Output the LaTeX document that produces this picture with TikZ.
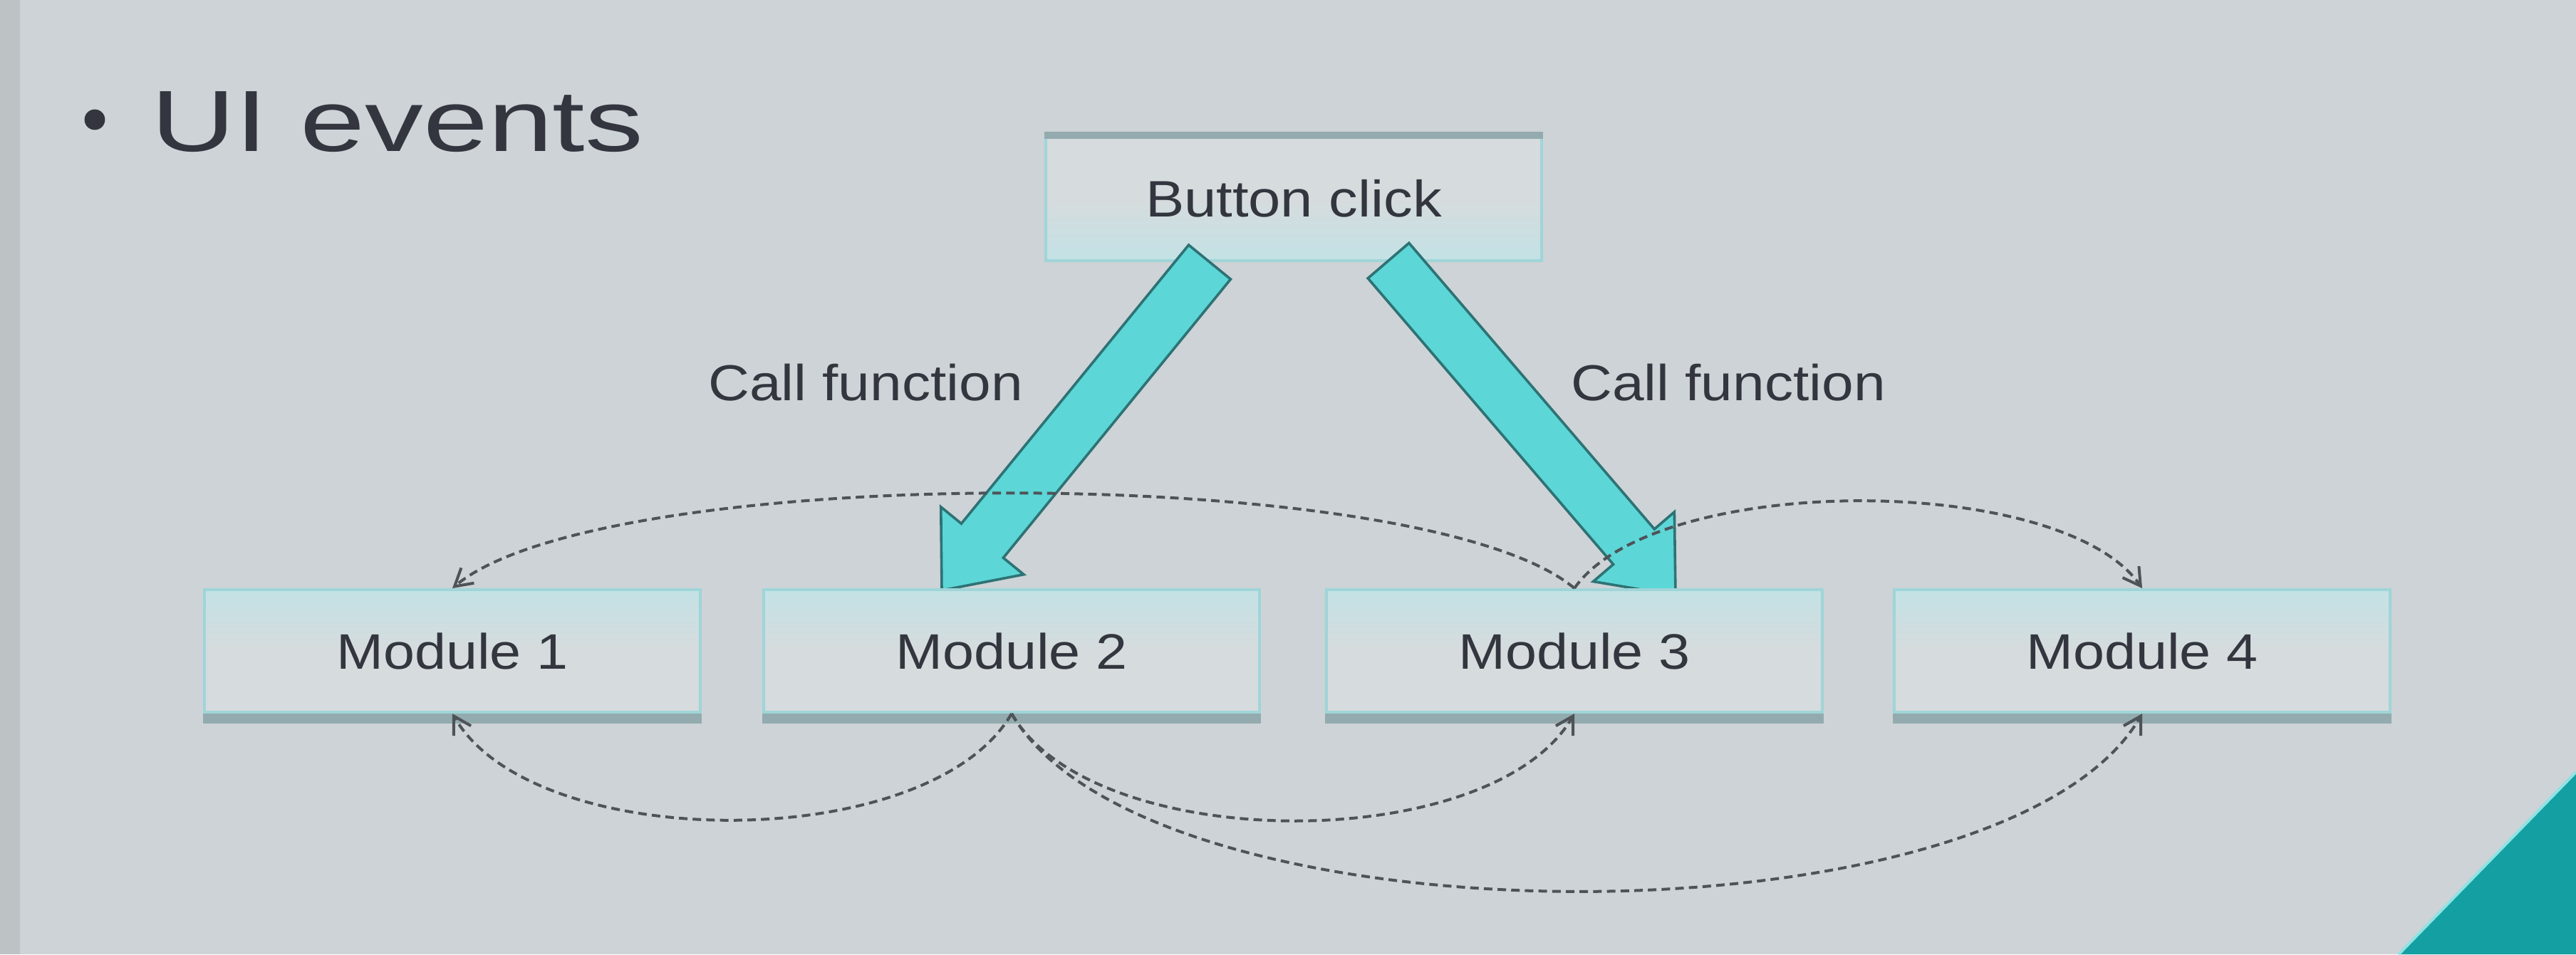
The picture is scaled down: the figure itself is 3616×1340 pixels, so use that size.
\documentclass[tikz,border=0pt]{standalone}
\usepackage{fontspec}
\setmainfont{Liberation Sans}
\newfontfamily\boxfont[FakeStretch=1.13]{Liberation Sans}
\newfontfamily\titlefont[FakeStretch=1.34]{Liberation Sans}
\usetikzlibrary{calc,arrows.meta}
\pgfdeclarelayer{back}
\pgfdeclarelayer{mid}
\pgfsetlayers{back,mid,main}
\definecolor{bgc}{HTML}{CDD3D6}
\definecolor{stripc}{HTML}{BDC2C5}
\definecolor{tealc}{HTML}{149FA3}
\definecolor{tealedge}{HTML}{8FE3E3}
\definecolor{boxfill}{HTML}{D6DBDD}
\definecolor{boxedge}{HTML}{9FD5D8}
\definecolor{glowc}{HTML}{C3E2E5}
\definecolor{shadowc}{HTML}{93ABAE}
\definecolor{arrowc}{HTML}{5CD6D6}
\definecolor{arrowedge}{HTML}{2E7275}
\definecolor{txt}{HTML}{33363E}
\definecolor{linkc}{HTML}{4E5358}
\tikzset{
  modbox/.style={draw=boxedge, line width=1pt, top color=glowc, bottom color=boxfill, middle color=boxfill,
    minimum width=174pt, minimum height=43pt, inner sep=0pt, text=txt,
    font=\boxfont\fontsize{17.5pt}{21pt}\selectfont},
  btnbox/.style={draw=boxedge, line width=1pt, top color=boxfill, bottom color=glowc, middle color=boxfill,
    minimum width=174pt, minimum height=43.5pt, inner sep=0pt, text=txt,
    font=\boxfont\fontsize{18pt}{21pt}\selectfont},
  lbl/.style={inner sep=0pt, text=txt, font=\boxfont\fontsize{17.75pt}{21pt}\selectfont},
  titletext/.style={inner sep=0pt, text=txt, font=\titlefont\fontsize{30.5pt}{36pt}\selectfont},
  bigarrow/.style={fill=arrowc, draw=arrowedge, line width=0.9pt, line join=miter},
  link/.style={draw=linkc, line width=1pt, dash pattern=on 3pt off 1.8pt,
    -{Straight Barb[length=6pt,width=7pt]}},
}
\begin{document}
\begin{tikzpicture}[x=0.25pt,y=-0.25pt]
\useasboundingbox (0,0) rectangle (3616,1340);
\begin{pgfonlayer}{back}
  \fill[bgc] (0,0) rectangle (3616,1340);
  \fill[stripc] (0,0) rectangle (28,1340);
  \fill[tealc] (3616,1084) -- (3367,1340) -- (3616,1340) -- cycle;
  \draw[tealedge, line width=1pt] (3616,1084) -- (3367,1340);
  \node[btnbox] (btn) at (1816,279) {Button click};
  \fill[shadowc] ([yshift=1.2pt]btn.north west) rectangle ([yshift=-1.2pt]btn.north east);
\end{pgfonlayer}

% title
\fill[txt] (133,168) circle (3.6pt);
\node[titletext, anchor=base west] (ui) at (212,212) {UI events};

% modules
\node[modbox] (m1) at (635,914) {Module 1};
\node[modbox] (m2) at (1420,914) {Module 2};
\node[modbox] (m3) at (2210,914) {Module 3};
\node[modbox] (m4) at (3007,914) {Module 4};
\foreach \m in {m1,m2,m3,m4}
  \fill[shadowc] (\m.south west) rectangle ([yshift=-3.5pt]\m.south east);

% block arrows
\begin{pgfonlayer}{mid}
  \coordinate (s1) at ($(btn.south)+(-118,0)$);
  \coordinate (e1) at ($(m2.north)+(-98,3)$);
  \coordinate (n1) at ($(e1)!22.5pt!(s1)$);
  \draw[bigarrow] ($(s1)!9.5pt!90:(e1)$) -- ($(n1)!9.5pt!90:(e1)$) -- ($(n1)!18.75pt!90:(e1)$)
    -- (e1) -- ($(n1)!18.75pt!-90:(e1)$) -- ($(n1)!9.5pt!-90:(e1)$) -- ($(s1)!9.5pt!-90:(e1)$) -- cycle;
  \coordinate (s2) at ($(btn.south)+(133,-2)$);
  \coordinate (e2) at ($(m3.north)+(142,10)$);
  \coordinate (n2) at ($(e2)!22.5pt!(s2)$);
  \draw[bigarrow] ($(s2)!9.5pt!90:(e2)$) -- ($(n2)!9.5pt!90:(e2)$) -- ($(n2)!18.75pt!90:(e2)$)
    -- (e2) -- ($(n2)!18.75pt!-90:(e2)$) -- ($(n2)!9.5pt!-90:(e2)$) -- ($(s2)!9.5pt!-90:(e2)$) -- cycle;
\end{pgfonlayer}

% labels
\node[lbl] (cf1) at (1215,537) {Call function};
\node[lbl] (cf2) at (2426,537) {Call function};

% curved connectors
\draw[link] (m3.north) to[out=140,in=40,looseness=0.45] (m1.north);
\draw[link] (m3.north) to[out=55,in=125,looseness=0.64] (m4.north);
\draw[link] (m2.south) to[out=-120,in=-60,looseness=0.75] (m1.south);
\draw[link] (m2.south) to[out=-60,in=-120,looseness=0.75] (m3.south);
\draw[link] (m2.south) to[out=-60,in=-120,looseness=0.62] (m4.south);
\end{tikzpicture}
\end{document}
